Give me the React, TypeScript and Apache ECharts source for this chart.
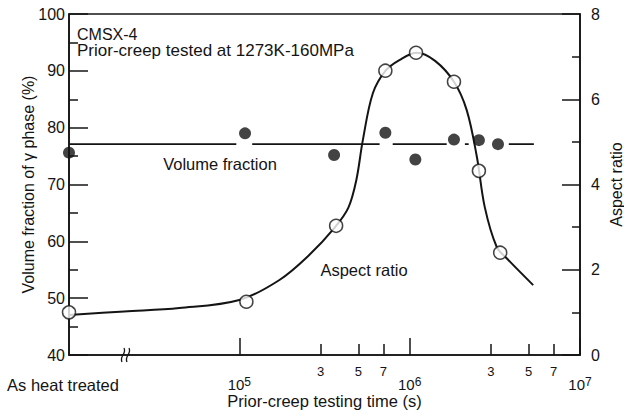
import React, { useEffect, useRef } from 'react';
import * as echarts from 'echarts';

const FONT = '"Liberation Sans", Arial, Helvetica, sans-serif';
const INK = '#141414';

// x axis (log time, s); 1e4 position stands for "As heat treated"
const xMin = 1e4;
const xMax = 1e7;
const majorTickValues = [1e5, 1e6, 1e7];
const majorLabelValues = [1e4, 1e5, 1e6, 1e7];
const minorTickValues = [3e5, 5e5, 7e5, 3e6, 5e6, 7e6];
const heatTreatedLabel = 'As heat treated';

// Volume fraction of gamma' phase (%), filled dots
const volTimes = [1e4, 1.08e5, 3.6e5, 7.2e5, 1.08e6, 1.82e6, 2.55e6, 3.3e6];
const volValues = [75.6, 79.0, 75.2, 79.1, 74.4, 77.9, 77.8, 77.1];

// Volume fraction guide line level and its drawn segments (start, end time)
const volLineLevel = 77.1;
const volLineSegments = [
  [1e4, 9.6e4],
  [1.19e5, 6.66e5],
  [7.95e5, 1.65e6],
  [2.11e6, 2.22e6],
  [3.82e6, 5.36e6],
];

// Aspect ratio, open circles
const aspTimes = [1e4, 1.1e5, 3.7e5, 7.2e5, 1.09e6, 1.82e6, 2.55e6, 3.4e6];
const aspValues = [1.0, 1.25, 3.03, 6.67, 7.09, 6.41, 4.32, 2.4];

// Aspect ratio fitted curve
const curveTimes = [
  1e4, 2.11e4, 4.44e4, 1e5, 1.72e5, 2.58e5, 3.65e5, 4.36e5, 4.86e5, 5.31e5,
  6.08e5, 7.22e5, 8.7e5, 1.1e6, 1.41e6, 1.82e6, 2.16e6, 2.48e6, 2.76e6,
  3.24e6, 3.71e6, 5.31e6,
];
const curveValues = [
  0.94, 1.02, 1.1, 1.29, 1.76, 2.35, 3.0, 3.45, 4.1, 5.04,
  6.14, 6.67, 6.92, 7.09, 6.9, 6.41, 5.75, 4.65, 3.47,
  2.54, 2.27, 1.64,
];

const leftTitle = 'Volume fraction of γ phase (%)';
const rightTitle = 'Aspect ratio';
const xTitle = 'Prior-creep testing time (s)';
const noteLine1 = 'CMSX-4';
const noteLine2 = 'Prior-creep tested at 1273K-160MPa';
const volLabel = 'Volume fraction';
const aspLabel = 'Aspect ratio';

function pair(xs: number[], ys: number[]) {
  return xs.map((x, i) => [x, ys[i]]);
}

export default function App() {
  const ref = useRef<HTMLDivElement>(null);

  useEffect(() => {
    if (!ref.current) return;
    const chart = echarts.init(ref.current, null, { renderer: 'svg' });

    const volLineData: any[] = [];
    volLineSegments.forEach(([a, b], i) => {
      if (i > 0) volLineData.push([a, '-']);
      volLineData.push([a, volLineLevel]);
      volLineData.push([b, volLineLevel]);
    });

    const baseText = { color: INK, fontFamily: FONT };

    chart.setOption({
      animation: false,
      backgroundColor: '#fff',
      grid: {
        left: 69,
        right: 44,
        top: 14,
        bottom: 62,
        containLabel: false,
        outerBoundsMode: 'none',
        show: true,
        borderColor: INK,
        borderWidth: 1.6,
        backgroundColor: 'transparent',
      },
      xAxis: [
        {
          type: 'log',
          logBase: 10,
          min: xMin,
          max: xMax,
          position: 'bottom',
          name: xTitle,
          nameLocation: 'middle',
          nameGap: 37,
          nameMoveOverlap: false,
          nameTextStyle: { ...baseText, fontSize: 16.5 },
          axisLine: { show: true, lineStyle: { color: INK, width: 1.6 } },
          axisTick: {
            show: true,
            inside: true,
            length: 17,
            customValues: majorTickValues,
            lineStyle: { color: INK, width: 1.5 },
          },
          minorTick: { show: false },
          splitLine: { show: false },
          axisLabel: {
            show: true,
            margin: 21,
            customValues: majorLabelValues,
            showMinLabel: true,
            showMaxLabel: true,
            formatter: (v: number) => {
              if (v < 2e4) return '{h|' + heatTreatedLabel + '}';
              return '{n|10}{s|' + Math.round(Math.log10(v)) + '}';
            },
            rich: {
              h: { ...baseText, fontSize: 16.5, padding: [0, 12, 0, 0] },
              n: { ...baseText, fontSize: 15, lineHeight: 17 },
              s: { ...baseText, fontSize: 12, lineHeight: 12, verticalAlign: 'top' },
            },
          },
        },
        {
          type: 'log',
          logBase: 10,
          min: xMin,
          max: xMax,
          position: 'bottom',
          axisLine: { show: false },
          axisTick: {
            show: true,
            inside: true,
            length: 11,
            customValues: minorTickValues,
            lineStyle: { color: INK, width: 1.5 },
          },
          minorTick: { show: false },
          splitLine: { show: false },
          axisLabel: {
            show: true,
            margin: 10,
            customValues: minorTickValues,
            ...baseText,
            fontSize: 13,
            formatter: (v: number) => {
              const p = Math.floor(Math.log10(v) + 1e-9);
              return String(Math.round(v / Math.pow(10, p)));
            },
          },
        },
      ],
      yAxis: [
        {
          type: 'value',
          min: 40,
          max: 100,
          interval: 10,
          position: 'left',
          name: leftTitle,
          nameLocation: 'middle',
          nameGap: 33,
          nameMoveOverlap: false,
          nameTextStyle: { ...baseText, fontSize: 16 },
          axisLine: { show: true, lineStyle: { color: INK, width: 1.6 } },
          axisTick: { show: true, inside: true, length: 19, lineStyle: { color: INK, width: 1.5 } },
          minorTick: { show: true, splitNumber: 2, length: 9, lineStyle: { color: INK, width: 1.5 } },
          splitLine: { show: false },
          axisLabel: { ...baseText, fontSize: 16, margin: 4 },
        },
        {
          type: 'value',
          min: 0,
          max: 8,
          interval: 2,
          position: 'right',
          name: rightTitle,
          nameLocation: 'middle',
          nameGap: 28,
          nameRotate: 90,
          nameMoveOverlap: false,
          nameTextStyle: { ...baseText, fontSize: 16 },
          axisLine: { show: true, lineStyle: { color: INK, width: 1.6 } },
          axisTick: { show: true, inside: true, length: 18, lineStyle: { color: INK, width: 1.5 } },
          minorTick: { show: true, splitNumber: 2, length: 8, lineStyle: { color: INK, width: 1.5 } },
          splitLine: { show: false },
          axisLabel: { ...baseText, fontSize: 16, margin: 11 },
        },
      ],
      series: [
        {
          name: 'vol-line',
          type: 'line',
          xAxisIndex: 0,
          yAxisIndex: 0,
          data: volLineData,
          showSymbol: false,
          connectNulls: false,
          clip: false,
          lineStyle: { color: INK, width: 1.8 },
          z: 2,
        },
        {
          name: 'aspect-curve',
          type: 'line',
          xAxisIndex: 0,
          yAxisIndex: 1,
          data: pair(curveTimes, curveValues),
          smooth: 0.35,
          showSymbol: false,
          clip: false,
          lineStyle: { color: INK, width: 2 },
          z: 3,
        },
        {
          name: 'Volume fraction',
          type: 'scatter',
          xAxisIndex: 0,
          yAxisIndex: 0,
          data: pair(volTimes, volValues),
          symbol: 'circle',
          symbolSize: 12,
          clip: false,
          itemStyle: { color: INK },
          z: 4,
        },
        {
          name: 'Aspect ratio',
          type: 'scatter',
          xAxisIndex: 0,
          yAxisIndex: 1,
          data: pair(aspTimes, aspValues),
          symbol: 'circle',
          symbolSize: 13,
          clip: false,
          itemStyle: { color: '#fff', borderColor: INK, borderWidth: 1.5 },
          z: 5,
        },
      ],
      graphic: [
        { type: 'text', left: 77, top: 26, style: { text: noteLine1, fill: INK, font: '16px ' + FONT } },
        { type: 'text', left: 77, top: 42, style: { text: noteLine2, fill: INK, font: '17px ' + FONT } },
        { type: 'text', x: 220, y: 164, style: { text: volLabel, fill: INK, font: '16.5px ' + FONT, align: 'center', verticalAlign: 'middle' } },
        { type: 'text', x: 364, y: 270, style: { text: aspLabel, fill: INK, font: '16.5px ' + FONT, align: 'center', verticalAlign: 'middle' } },
        {
          type: 'bezierCurve',
          shape: { x1: 122, y1: 362, x2: 124, y2: 348, cpx1: 119, cpy1: 356, cpx2: 127, cpy2: 354 },
          style: { stroke: INK, lineWidth: 1.3, fill: 'none' },
          z: 10,
        },
        {
          type: 'bezierCurve',
          shape: { x1: 127, y1: 362, x2: 129, y2: 348, cpx1: 124, cpy1: 356, cpx2: 132, cpy2: 354 },
          style: { stroke: INK, lineWidth: 1.3, fill: 'none' },
          z: 10,
        },
      ],
    });

    return () => chart.dispose();
  }, []);

  return (
    <div
      ref={ref}
      style={{ position: 'fixed', left: 0, top: 0, width: 624, height: 417, background: '#fff' }}
    />
  );
}
